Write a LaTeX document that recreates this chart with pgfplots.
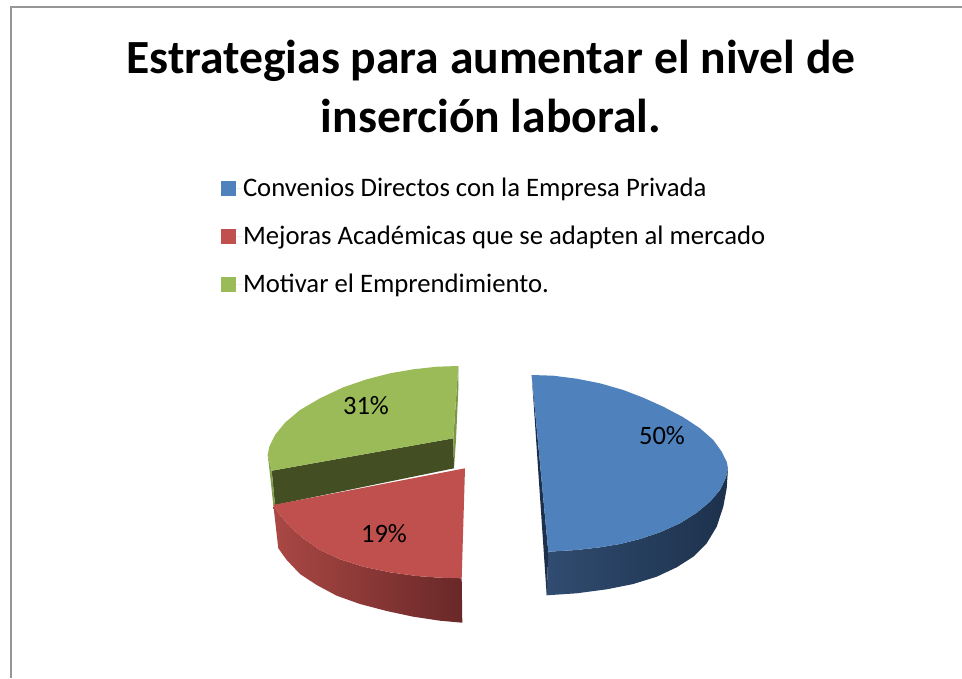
\documentclass[border=0pt]{standalone}
\usepackage{pgfplots}
\pgfplotsset{compat=1.18}
\usepackage{fontspec}
\setmainfont{Carlito}
\definecolor{cblue}{HTML}{4F81BD}
\definecolor{cred}{HTML}{C0504D}
\definecolor{cgreen}{HTML}{9BBB59}
\definecolor{cdark}{HTML}{434E23}
\begin{document}
\begin{tikzpicture}
\path[use as bounding box] (0,0) rectangle (962pt,678pt);
\begin{axis}[
  at={(0,0)}, anchor=south west,
  width=962pt, height=678pt, scale only axis,
  xmin=0, xmax=962, ymin=0, ymax=678, y dir=reverse,
  hide axis,
  legend cell align=left,
  legend style={at={(axis cs:221,178)}, anchor=north west, draw=none, fill=none,
    font=\fontsize{26.7}{30}\selectfont, inner sep=0pt, outer sep=0pt,
    row sep=28pt, nodes={inner sep=0pt, outer sep=0pt}},
  legend image code/.code={\path (0pt,0pt) rectangle (22pt,0pt);\fill[#1,draw=none] (0pt,-7.5pt) rectangle (15pt,7.5pt);},
]
% frame
\addplot[forget plot, draw={rgb,255:red,150;green,150;blue,150}, line width=2pt] coordinates {(11,678)(11,7)(962,7)};
% green sides
\addplot[forget plot, fill=cdark, draw=none] coordinates {(271.7,470.7)(453.3,438.3)(454,468.3)(275,505)(271.7,470.7)};
\addplot[forget plot, fill={rgb,255:red,130;green,160;blue,75}, draw=none] coordinates {(267.7,455)(271.7,470.7)(275,505)(273.3,505)(269.5,470)(267.7,455)};
\addplot[forget plot, fill={rgb,255:red,125;green,150;blue,70}, draw=none] coordinates {(458.3,366)(453.3,438.3)(454,468.3)(456,440)(458.5,385)(458.3,366)};
% red side
\addplot[forget plot, left color={rgb,255:red,170;green,72;blue,68}, right color={rgb,255:red,105;green,40;blue,40}, draw=none]
 coordinates {(273.3,505)(280,515)(290,526.7)(303.3,538.3)(320,550)(340,559.3)(363.3,566.7)(390,572.3)(416.7,576)(440,577.7)(461.7,578.3)(462.3,622.7)(440,620.7)(413.3,616.7)(386.7,611)(360,604)(336.7,595.7)(316.7,585)(300,574)(286.7,560)(278.3,548.3)(273.3,505)};
% blue side
\addplot[forget plot, left color={rgb,255:red,48;green,76;blue,112}, right color={rgb,255:red,29;green,49;blue,76}, draw=none]
 coordinates {(548.3,551.7)(576.7,550)(600,547.3)(620,544)(640,539)(660,532.3)(680,523.3)(696.7,512.7)(710,501.7)(720,490)(726,477.3)(728,468.3)(726.7,488.3)(723.3,506.7)(716.7,526.7)(706.7,543.3)(693.3,556.7)(676.7,567.3)(656.7,576.7)(633.3,584)(606.7,589.3)(576.7,593.3)(546.7,595.3)(548.3,551.7)};
\addplot[forget plot, fill={rgb,255:red,28;green,48;blue,76}, draw=none] coordinates {(531.7,375)(548.3,551.7)(546.7,595.3)(531.7,375)};
% top faces
\addplot[fill=cblue, draw=none] coordinates {(531.7,375)(553.3,375.7)(576.7,378.7)(600,383.3)(623.3,390)(643.3,397.7)(663.3,406.7)(683.3,417.3)(700,428.3)(713.3,440)(721.7,451.7)(726.7,461.7)(728,468.3)(726,477.3)(720,490)(710,501.7)(696.7,512.7)(680,523.3)(660,532.3)(640,539)(620,544)(600,547.3)(576.7,550)(548.3,551.7)(531.7,375)};
\addlegendentry{Convenios Directos con la Empresa Privada}
\addplot[fill=cred, draw=none] coordinates {(465,468.3)(461.7,578.3)(440,577.7)(416.7,576)(390,572.3)(363.3,566.7)(340,559.3)(320,550)(303.3,538.3)(290,526.7)(280,515)(273.3,505)(465,468.3)};
\addlegendentry{Mejoras Académicas que se adapten al mercado}
\addplot[fill=cgreen, draw=none] coordinates {(458.3,366)(436.7,366.7)(413.3,369.3)(390,373.3)(366.7,379.3)(343.3,387.3)(320,398.3)(300,410)(285,422.7)(275,435)(269.3,446.7)(267.7,455)(271.7,470.7)(453.3,438.3)(458.3,366)};
\addlegendentry{Motivar el Emprendimiento.}
% texts
\node[font=\fontsize{47.6}{59}\selectfont\bfseries, align=center, anchor=center] at (axis cs:491,86) {Estrategias para aumentar el nivel de\\inserción laboral.};
\node[font=\fontsize{26.5}{30}\selectfont] at (axis cs:662,436) {50\%};
\node[font=\fontsize{26.5}{30}\selectfont] at (axis cs:366,406) {31\%};
\node[font=\fontsize{26.5}{30}\selectfont] at (axis cs:384,534) {19\%};
\end{axis}
\end{tikzpicture}
\end{document}
